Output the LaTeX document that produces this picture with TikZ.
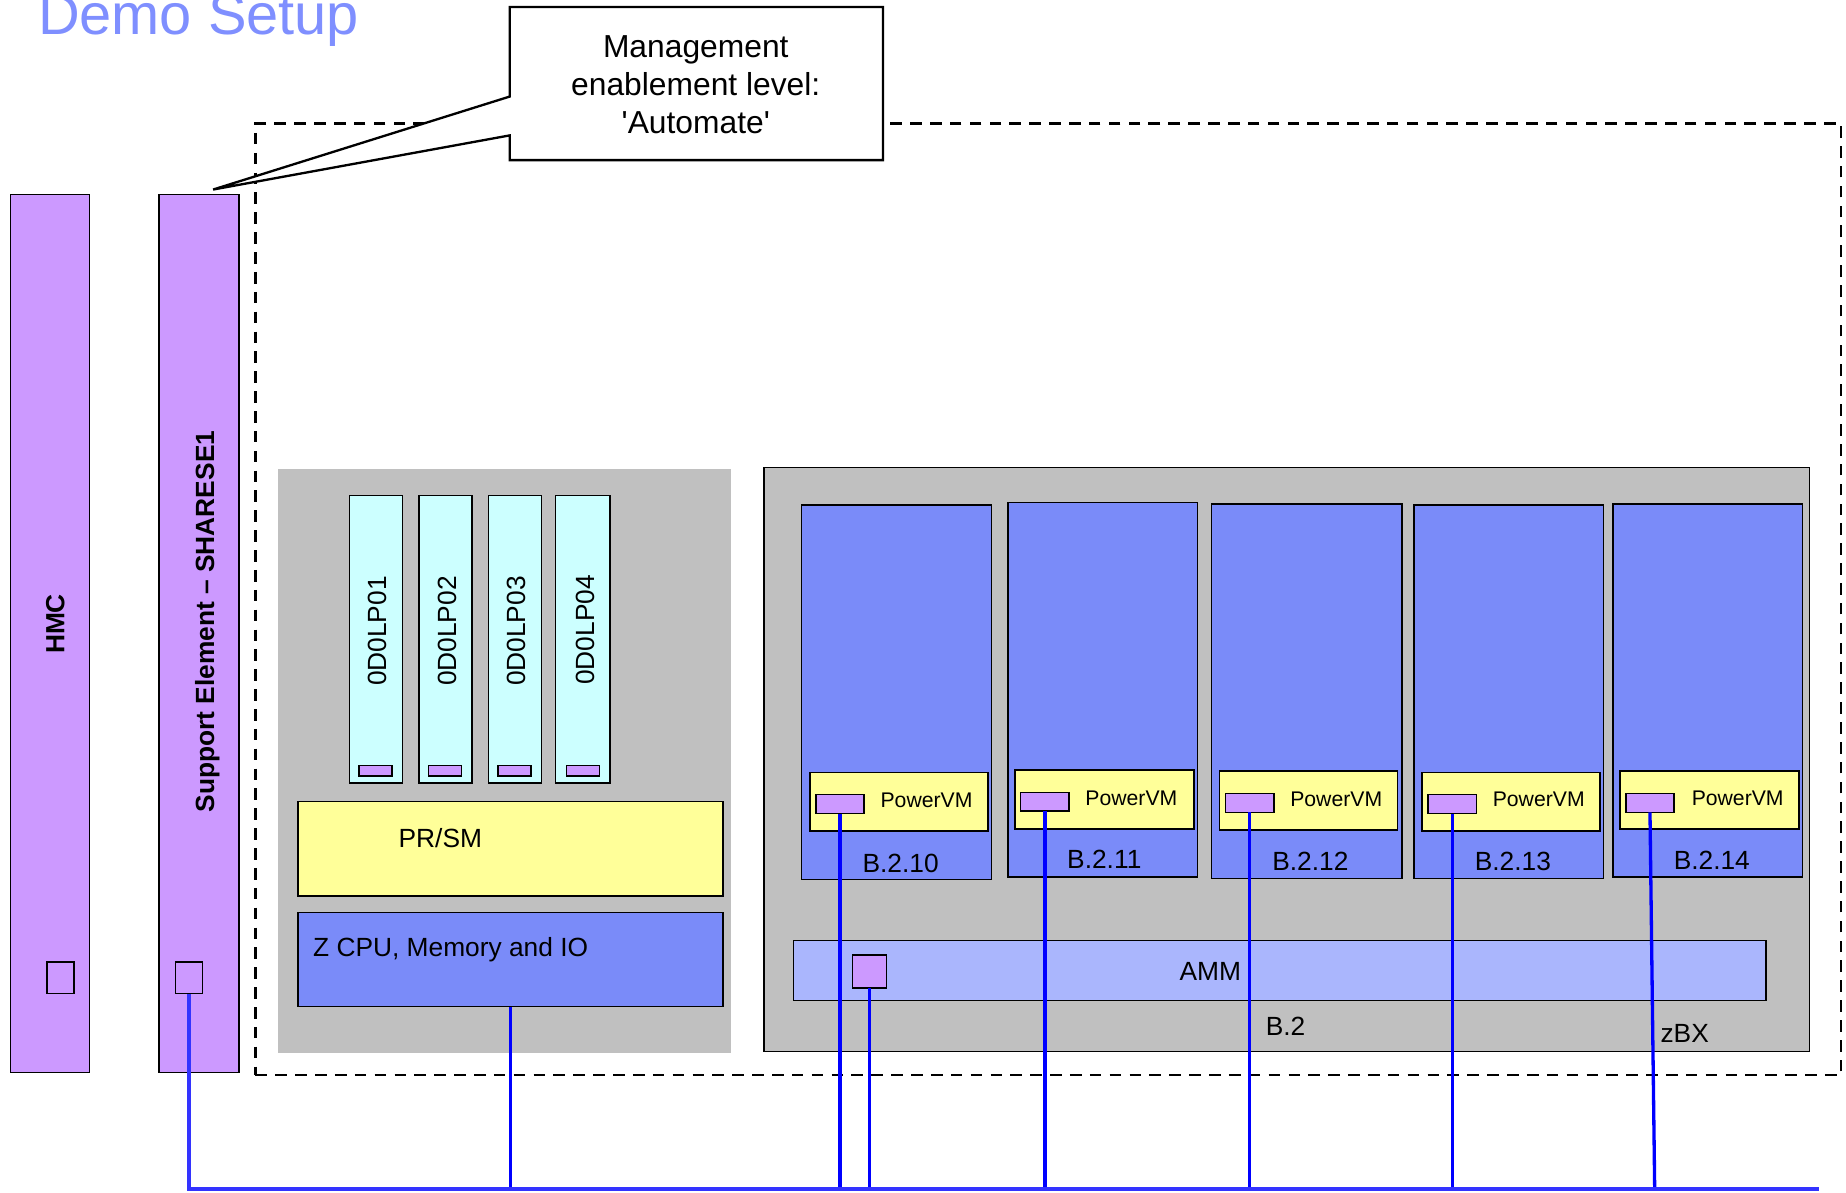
\documentclass[tikz,border=0pt]{standalone}
\usepackage{fontspec}
\setmainfont{Liberation Sans}
\usetikzlibrary{fit}
\definecolor{purp}{HTML}{CC99FF}
\definecolor{cyanl}{HTML}{CCFFFF}
\definecolor{yel}{HTML}{FFFF99}
\definecolor{blade}{HTML}{7A8BF9}
\definecolor{ammc}{HTML}{AAB6FD}
\definecolor{greyb}{HTML}{C0C0C0}
\definecolor{titleblue}{HTML}{7F8FFF}
\definecolor{busc}{HTML}{3333FF}
\definecolor{linkc}{HTML}{0000FF}
\tikzset{
  box/.style={draw=black, line width=0.9pt, inner sep=0pt, outer sep=0pt},
  panel/.style={fill=greyb, inner sep=0pt, outer sep=0pt},
  txt/.style={inner sep=0pt, outer sep=0pt, font=\fontsize{15.9}{19}\selectfont},
  smalltxt/.style={inner sep=0pt, outer sep=0pt, font=\fontsize{12.8}{15}\selectfont},
  vtxt/.style={txt, rotate=90},
  btxt/.style={inner sep=0pt, outer sep=0pt, rotate=90, font=\fontsize{15.9}{19}\selectfont\bfseries},
  buslink/.style={draw=busc, line width=2.8pt},
  link/.style={draw=linkc, line width=2pt},
  dashbox/.style={draw=black, line width=1.4pt, dash pattern=on 7pt off 5pt},
}
\begin{document}
\begin{tikzpicture}[x=0.025cm, y=-0.025cm]
\useasboundingbox (0,0) rectangle (1568,1013);

% title
\node[anchor=base west, inner sep=0pt, text=titleblue, font=\fontsize{34.9}{40}\selectfont] (title) at (32,29) {Demo Setup};

% dashed frame
\node[dashbox, inner sep=0pt, fit={(217,105) (1564,913)}] (frame) {};

% callout
\draw[fill=white, draw=black, line width=1.4pt, line join=miter] (433,6) -- (750,6) -- (750,136) -- (433,136) -- (433,115) -- (181,161) -- (433,82) -- cycle;
\node[inner sep=0pt, align=center, font=\fontsize{19.2}{22.8}\selectfont] (callout) at (591,72) {Management\\enablement level:\\\textquotesingle Automate\textquotesingle};

% HMC and SE
\node[box, fill=purp, fit={(9,165) (76,911)}] (hmc) {};
\node[btxt] (hmct) at (47,530) {HMC};
\node[box, draw=black, line width=0.9pt, fit={(40,817) (63,844)}] (hmcsq) {};
\node[box, fill=purp, fit={(135,165) (203,911)}] (se) {};
\node[btxt] (set) at (176,528) {Support Element – SHARESE1};
\node[box, fit={(149,817) (172,844)}] (sesq) {};

% left panel (CPC)
\node[panel, fit={(236,398) (621,894)}] (cpc) {};
\node[box, fill=cyanl, fit={(297,421) (342,665)}] (lp1) {};
\node[box, fill=cyanl, fit={(356,421) (401,665)}] (lp2) {};
\node[box, fill=cyanl, fit={(415,421) (460,665)}] (lp3) {};
\node[box, fill=cyanl, fit={(472,421) (518,665)}] (lp4) {};
\node[vtxt] (lp1t) at (321,536) {0D0LP01};
\node[vtxt] (lp2t) at (380,536) {0D0LP02};
\node[vtxt] (lp3t) at (439,536) {0D0LP03};
\node[vtxt] (lp4t) at (497,535) {0D0LP04};
\node[box, fill=purp, fit={(305,650) (333,659)}] (lp1s) {};
\node[box, fill=purp, fit={(364,650) (392,659)}] (lp2s) {};
\node[box, fill=purp, fit={(423,650) (451,659)}] (lp3s) {};
\node[box, fill=purp, fit={(481,650) (509,659)}] (lp4s) {};
\node[box, fill=yel, fit={(253,681) (614,761)}] (prsm) {};
\node[txt] (prsmt) at (374,712) {PR/SM};
\node[box, fill=blade, fit={(253,775) (614,855)}] (zcpu) {};
\node[txt, anchor=west] (zcput) at (266,807) {Z CPU, Memory and IO};

% zBX
\node[box, fill=greyb, fit={(649,397) (1537,893)}] (zbx) {};
\node[box, fill=blade, fit={(681,429) (842,747)}] (b10) {};
\node[box, fill=blade, fit={(856,427) (1017,745)}] (b11) {};
\node[box, fill=blade, fit={(1029,428) (1191,746)}] (b12) {};
\node[box, fill=blade, fit={(1201,429) (1362,746)}] (b13) {};
\node[box, fill=blade, fit={(1370,428) (1531,745)}] (b14) {};
\node[box, fill=yel, fit={(688,656) (839,706)}] (pv10) {};
\node[box, fill=yel, fit={(862,654) (1014,704)}] (pv11) {};
\node[box, fill=yel, fit={(1036,655) (1187,705)}] (pv12) {};
\node[box, fill=yel, fit={(1208,656) (1359,706)}] (pv13) {};
\node[box, fill=yel, fit={(1376,655) (1528,704)}] (pv14) {};
\node[box, fill=purp, fit={(693,675) (734,691)}] (pv10s) {};
\node[box, fill=purp, fit={(867,673) (908,689)}] (pv11s) {};
\node[box, fill=purp, fit={(1041,674) (1082,690)}] (pv12s) {};
\node[box, fill=purp, fit={(1213,675) (1254,691)}] (pv13s) {};
\node[box, fill=purp, fit={(1381,674) (1422,690)}] (pv14s) {};
\node[smalltxt] (pv10t) at (787,680) {PowerVM};
\node[smalltxt] (pv11t) at (961,678) {PowerVM};
\node[smalltxt] (pv12t) at (1135,679) {PowerVM};
\node[smalltxt] (pv13t) at (1307,679) {PowerVM};
\node[smalltxt] (pv14t) at (1476,678) {PowerVM};
\node[txt] (b10t) at (765,733) {B.2.10};
\node[txt] (b11t) at (938,730) {B.2.11};
\node[txt] (b12t) at (1113,732) {B.2.12};
\node[txt] (b13t) at (1285,732) {B.2.13};
\node[txt] (b14t) at (1454,731) {B.2.14};
\node[box, fill=ammc, fit={(674,799) (1500,850)}] (amm) {};
\node[txt] (ammt) at (1028,825) {AMM};
\node[box, fill=purp, fit={(724,811) (753,839)}] (ammsq) {};
\node[txt] (b2t) at (1092,872) {B.2};
\node[txt] (zbxt) at (1431,878) {zBX};

% network
\coordinate (busR) at (1545,1010);
\draw[link] (zcpu.south) -- (zcpu.south |- busR);
\draw[link] (pv10s.south) -- (pv10s.south |- busR);
\draw[link] (ammsq.south) -- (ammsq.south |- busR);
\draw[link] (pv11s.south) -- (pv11s.south |- busR);
\draw[link] (pv12s.south) -- (pv12s.south |- busR);
\draw[link] (pv13s.south) -- (pv13s.south |- busR);
\draw[link] (pv14s.south) -- ([xshift=0.1cm]pv14s.south |- busR);
\draw[buslink] (sesq.south) |- (busR);
\end{tikzpicture}
\end{document}
